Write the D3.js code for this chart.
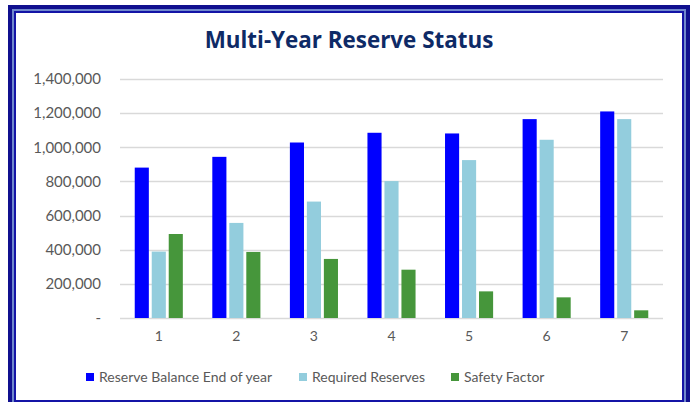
<!DOCTYPE html>
<html lang="en">
<head>
  <meta charset="UTF-8">
  <title>Multi-Year Reserve Status</title>
  <style>
    body {
      margin: 0;
      background: #fff;
    }
    svg {
      display: block;
      font-family: Lato, sans-serif;
    }
  </style>
</head>
<body>
<div class="chart"></div>
<script src="https://d3js.org/d3.v7.min.js"></script>
<script>
  // data
  let years = ['1', '2', '3', '4', '5', '6', '7']
  let seriesNames = ['Reserve Balance End of year', 'Required Reserves', 'Safety Factor']
  let balance = [881000, 944000, 1028000, 1085000, 1081000, 1165000, 1210000]
  let required = [389000, 557000, 682000, 802000, 925000, 1044000, 1165000]
  let safety = [492000, 387000, 346000, 283000, 156000, 121000, 45000]
  let yTicks = [0, 200000, 400000, 600000, 800000, 1000000, 1200000, 1400000]

  let colors = ['#0000ff', '#93cddd', '#46963b']
  let values = [balance, required, safety]

  let W = 694, H = 402
  let svg = d3.select('.chart').append('svg')
    .attr('width', W)
    .attr('height', H)

  // frame: dark / light / dark stripes
  let frame = [
    {x0: 10, y0: 7, x1: 688, y1: 406, w: 4, c: '#10108f'},
    {x0: 13, y0: 10, x1: 685, y1: 403, w: 2, c: '#7088cc'},
    {x0: 15, y0: 12, x1: 683, y1: 401, w: 2, c: '#1414a6'}
  ]
  svg.selectAll('rect.frame')
    .data(frame)
    .enter()
    .append('rect')
    .attr('class', 'frame')
    .attr('x', d => d.x0)
    .attr('y', d => d.y0)
    .attr('width', d => d.x1 - d.x0)
    .attr('height', d => d.y1 - d.y0)
    .attr('fill', 'none')
    .attr('stroke', d => d.c)
    .attr('stroke-width', d => d.w)

  svg.append('text')
    .attr('x', 349)
    .attr('y', 48)
    .attr('text-anchor', 'middle')
    .attr('font-size', '22.4px')
    .attr('font-weight', 'bold')
    .attr('font-family', '"Open Sans", sans-serif')
    .attr('fill', '#0e2a66')
    .text('Multi-Year Reserve Status')

  let x0 = d3.scaleBand()
    .domain(years)
    .range([120, 663])
    .paddingInner(0.38)
    .paddingOuter(0.19)

  let x1 = d3.scaleBand()
    .domain(d3.range(seriesNames.length))
    .range([0, x0.bandwidth()])
    .paddingInner(0.17)

  let y = d3.scaleLinear()
    .domain([0, 1400000])
    .range([318, 79])

  // gridlines
  svg.append('g')
    .selectAll('line')
    .data(yTicks)
    .enter()
    .append('line')
    .attr('x1', 120)
    .attr('x2', 663)
    .attr('y1', d => Math.round(y(d)) + 0.5)
    .attr('y2', d => Math.round(y(d)) + 0.5)
    .attr('stroke', '#d9d9d9')
    .attr('stroke-width', 1.3)

  // y axis labels
  let fmt = d3.format(',')
  let yAxis = svg.append('g')
    .attr('transform', 'translate(101,0)')
    .call(d3.axisLeft(y).tickValues(yTicks).tickSize(0).tickPadding(0)
      .tickFormat(d => d === 0 ? '-' : fmt(d)))
  yAxis.select('.domain').remove()
  yAxis.selectAll('text')
    .attr('fill', '#595959')
    .attr('font-size', '15px')
    .attr('font-family', 'Lato, sans-serif')

  // bars
  let groups = svg.append('g')
    .selectAll('g')
    .data(years)
    .enter()
    .append('g')
    .attr('transform', d => 'translate(' + x0(d) + ',0)')

  groups.selectAll('rect')
    .data((d, i) => values.map((v, s) => ({s: s, v: v[i]})))
    .enter()
    .append('rect')
    .attr('x', d => x1(d.s))
    .attr('width', x1.bandwidth())
    .attr('y', d => y(d.v))
    .attr('height', d => y(0) - y(d.v))
    .attr('fill', d => colors[d.s])

  // x axis labels
  let xAxis = svg.append('g')
    .attr('transform', 'translate(0,331)')
    .call(d3.axisBottom(x0).tickSize(0).tickPadding(0))
  xAxis.select('.domain').remove()
  xAxis.selectAll('text')
    .attr('fill', '#595959')
    .attr('font-size', '14px')
    .attr('font-family', 'Lato, sans-serif')

  // legend
  let legendX = [86, 299, 451]
  let legend = svg.append('g')
    .selectAll('g')
    .data(seriesNames)
    .enter()
    .append('g')
    .attr('transform', (d, i) => 'translate(' + legendX[i] + ',377)')

  legend.append('rect')
    .attr('x', 0)
    .attr('y', -4)
    .attr('width', 8)
    .attr('height', 8)
    .attr('fill', (d, i) => colors[i])

  legend.append('text')
    .attr('x', 13)
    .attr('dy', '0.35em')
    .attr('font-size', '14px')
    .attr('fill', '#595959')
    .text(d => d)
</script>
</body>
</html>
